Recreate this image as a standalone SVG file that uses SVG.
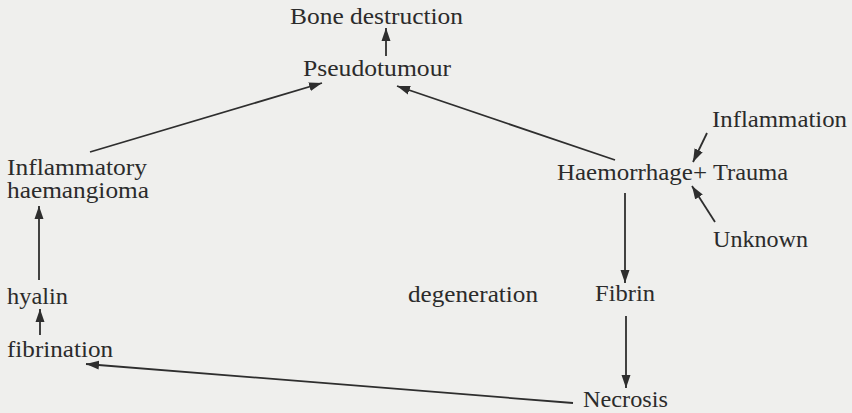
<svg xmlns="http://www.w3.org/2000/svg" width="852" height="413" viewBox="0 0 852 413">
<style>
.t{font-family:"Liberation Serif","Times New Roman",serif;font-size:23px;fill:#2b2b2b}
.c{stroke:#2e2e2e;stroke-width:1.8;fill:none;marker-end:url(#ah)}
</style>
<defs>
<marker id="ah" markerUnits="userSpaceOnUse" markerWidth="14" markerHeight="10" refX="13" refY="5" orient="auto">
<path d="M0,0.5 L13,5 L0,9.5 z" fill="#2e2e2e"/>
</marker>
</defs>
<rect width="852" height="413" fill="#efefed"/>
<g id="connectors">
<line class="c" x1="386" y1="56" x2="386" y2="28"/>
<line class="c" x1="90" y1="152" x2="322" y2="83"/>
<line class="c" x1="615" y1="160" x2="397" y2="86"/>
<line class="c" x1="707" y1="133" x2="693" y2="162"/>
<line class="c" x1="715" y1="222" x2="692" y2="186"/>
<line class="c" x1="625" y1="193" x2="625" y2="283"/>
<line class="c" x1="626" y1="316" x2="626" y2="388"/>
<line class="c" x1="573" y1="403" x2="86" y2="364"/>
<line class="c" x1="39" y1="280" x2="39" y2="206"/>
<line class="c" x1="40" y1="335" x2="40" y2="309"/>
</g>
<g id="bone"><text class="t" x="290" y="24" textLength="173" lengthAdjust="spacingAndGlyphs">Bone destruction</text></g>
<g id="pseudotumour"><text class="t" x="303" y="76" textLength="148" lengthAdjust="spacingAndGlyphs">Pseudotumour</text></g>
<g id="haemangioma">
<text class="t" x="7" y="175" textLength="140" lengthAdjust="spacingAndGlyphs">Inflammatory</text>
<text class="t" x="7" y="198" textLength="142" lengthAdjust="spacingAndGlyphs">haemangioma</text>
</g>
<g id="hyalin"><text class="t" x="7" y="304" textLength="61" lengthAdjust="spacingAndGlyphs">hyalin</text></g>
<g id="fibrination"><text class="t" x="7" y="357" textLength="106" lengthAdjust="spacingAndGlyphs">fibrination</text></g>
<g id="degeneration"><text class="t" x="408" y="302" textLength="130" lengthAdjust="spacingAndGlyphs">degeneration</text></g>
<g id="fibrin"><text class="t" x="595" y="301" textLength="60" lengthAdjust="spacingAndGlyphs">Fibrin</text></g>
<g id="necrosis"><text class="t" x="583" y="407" textLength="85" lengthAdjust="spacingAndGlyphs">Necrosis</text></g>
<g id="haemorrhage"><text class="t" x="557" y="180" textLength="150" lengthAdjust="spacingAndGlyphs">Haemorrhage+</text></g>
<g id="trauma"><text class="t" x="713" y="180" textLength="75" lengthAdjust="spacingAndGlyphs">Trauma</text></g>
<g id="inflammation"><text class="t" x="712" y="127" textLength="135" lengthAdjust="spacingAndGlyphs">Inflammation</text></g>
<g id="unknown"><text class="t" x="713" y="247" textLength="95" lengthAdjust="spacingAndGlyphs">Unknown</text></g>
</svg>
